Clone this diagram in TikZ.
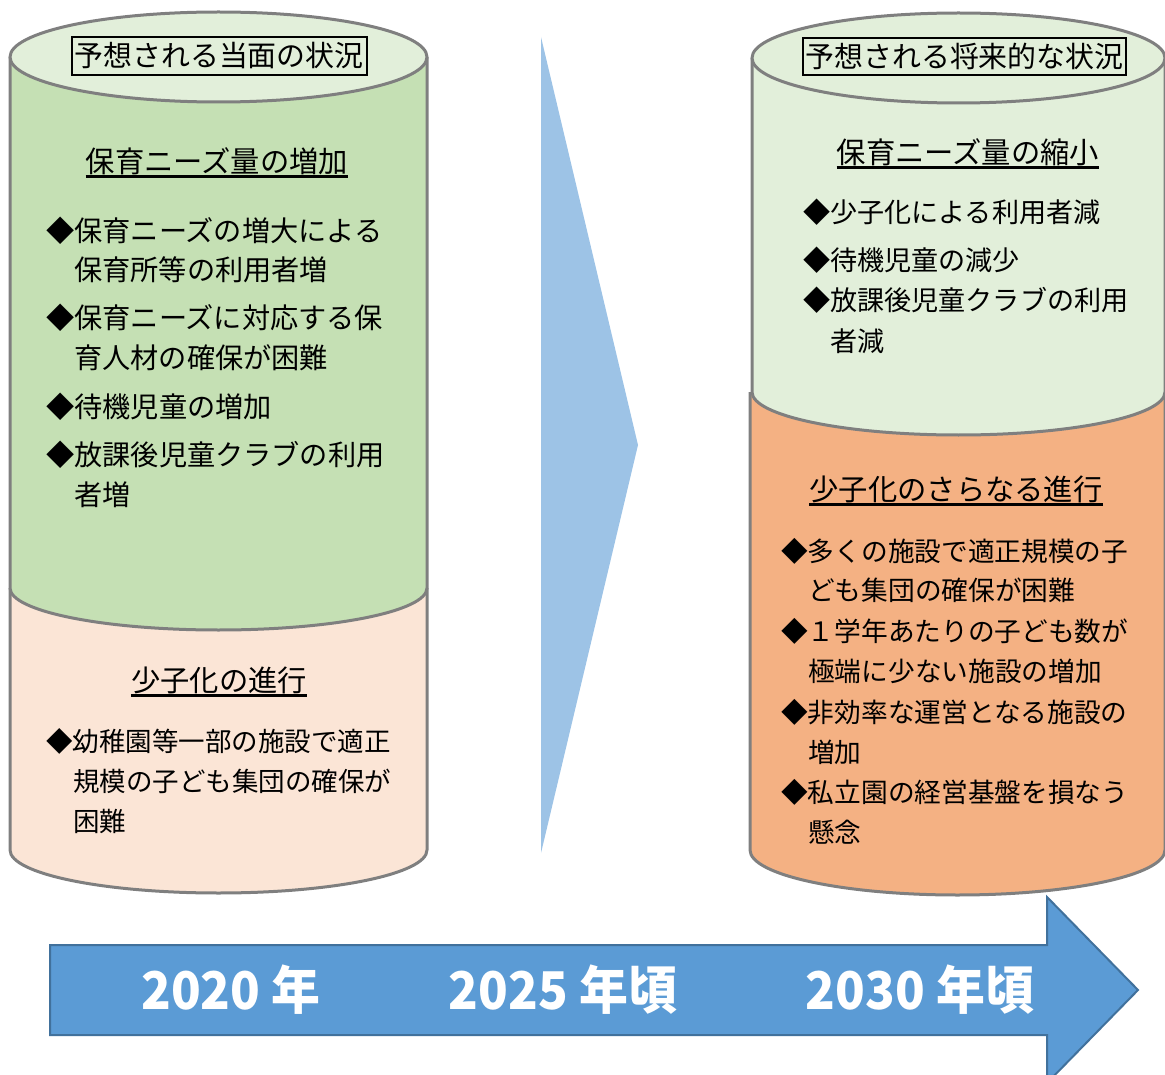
\documentclass[tikz,border=0pt]{standalone}
\usepackage{fontspec}
\newfontfamily\jp{Noto Sans CJK JP}
\definecolor{edge}{HTML}{7F7F7F}
\definecolor{gdark}{HTML}{C5E0B4}
\definecolor{glight}{HTML}{E2EFDA}
\definecolor{pinkc}{HTML}{FBE5D6}
\definecolor{orangec}{HTML}{F4B183}
\definecolor{chev}{HTML}{9DC3E6}
\definecolor{arrowf}{HTML}{5B9BD5}
\definecolor{arrowd}{HTML}{41719C}
\tikzset{
  cyl/.style={draw=edge, line width=3pt, line join=round},
  txt/.style={font=\jp\fontsize{28.2}{30}\selectfont, inner sep=0pt, anchor=west, text height=25pt, text depth=3.4pt},
  txtB/.style={txt, font=\jp\fontsize{26.5}{30}\selectfont},
  txtC/.style={txt, font=\jp\fontsize{27.1}{30}\selectfont},
  txtD/.style={txt, font=\jp\fontsize{26.7}{30}\selectfont},
  hd/.style={txt, anchor=center, font=\jp\fontsize{29.3}{31}\selectfont},
  titlebox/.style={txt, anchor=center, font=\jp\fontsize{28.9}{31}\selectfont, draw=black, line width=2pt, inner xsep=3pt, inner ysep=4.5pt},
  ul/.style={line width=3pt},
  yeartext/.style={font=\jp\bfseries\fontsize{52}{54}\selectfont, text=white, inner sep=0pt, anchor=center}
}
\begin{document}
\begin{tikzpicture}[x=1pt,y=-1pt]
\useasboundingbox (0,0) rectangle (1165,1075);
\clip (0,0) rectangle (1165,1075);
% ---------- left cylinder ----------
\fill[pinkc] (10,588) -- (10,850) arc[start angle=180,end angle=0,x radius=208.5,y radius=43] -- (427,588) -- cycle;
\draw[cyl] (10,588) -- (10,850) arc[start angle=180,end angle=0,x radius=208.5,y radius=43] -- (427,588);
\fill[gdark] (10,57) -- (10,588) arc[start angle=180,end angle=0,x radius=208.5,y radius=42] -- (427,57) -- cycle;
\draw[cyl] (10,57) -- (10,588) arc[start angle=180,end angle=0,x radius=208.5,y radius=42] -- (427,57);
\filldraw[cyl, fill=glight] (218.5,57) ellipse[x radius=208.5, y radius=45];
% ---------- right cylinder ----------
\fill[orangec] (750,392) -- (750,850) arc[start angle=180,end angle=0,x radius=207.5,y radius=45] -- (1165,392) -- cycle;
\draw[cyl] (750,392) -- (750,850) arc[start angle=180,end angle=0,x radius=207.5,y radius=45] -- (1165,392);
\fill[glight] (752,58) -- (752,392) arc[start angle=180,end angle=0,x radius=206.5,y radius=43] -- (1165,58) -- cycle;
\draw[cyl] (752,58) -- (752,392) arc[start angle=180,end angle=0,x radius=206.5,y radius=43] -- (1165,58);
\filldraw[cyl, fill=glight] (958.5,58) ellipse[x radius=206.5, y radius=45];
% ---------- middle chevron ----------
\fill[chev] (541,37) -- (638,445) -- (541,853) -- cycle;
% ---------- timeline arrow ----------
\filldraw[fill=arrowf, draw=arrowd, line width=2pt, line join=miter]
  (50,945) -- (1047,945) -- (1047,897) -- (1138,990) -- (1047,1083) -- (1047,1035) -- (50,1035) -- cycle;
\node[yeartext] (y1) at (231,990) {\scalebox{0.94}[1]{2020 年}};
\node[yeartext] (y2) at (563,990) {\scalebox{0.94}[1]{2025 年頃}};
\node[yeartext] (y3) at (920,990) {\scalebox{0.94}[1]{2030 年頃}};
% ---------- left texts ----------
\node[titlebox] (lt) at (219,56) {予想される当面の状況};
\node[hd] (lh1) at (217,162) {保育ニーズ量の増加};
\draw[ul] (lh1.south west) -- (lh1.south east);
\node[txt] (la1) at (46,231) {◆保育ニーズの増大による};
\node[txt] (la2) at (74,270) {保育所等の利用者増};
\node[txt] (lb1) at (46,318) {◆保育ニーズに対応する保};
\node[txt] (lb2) at (74,358) {育人材の確保が困難};
\node[txt] (lc1) at (46,407) {◆待機児童の増加};
\node[txt] (ld1) at (46,455) {◆放課後児童クラブの利用};
\node[txt] (ld2) at (74,495) {者増};
\node[hd] (lh2) at (219,681) {少子化の進行};
\draw[ul] (lh2.south west) -- (lh2.south east);
\node[txtB] (le1) at (46,741) {◆幼稚園等一部の施設で適正};
\node[txtB] (le2) at (73,781) {規模の子ども集団の確保が};
\node[txtB] (le3) at (73,821) {困難};
% ---------- right texts ----------
\node[titlebox] (rt) at (964.5,56.5) {予想される将来的な状況};
\node[hd] (rh1) at (968,153) {保育ニーズ量の縮小};
\draw[ul] (rh1.south west) -- (rh1.south east);
\node[txtC] (ra1) at (803,212) {◆少子化による利用者減};
\node[txtC] (rb1) at (803,260) {◆待機児童の減少};
\node[txtC] (rc1) at (803,300) {◆放課後児童クラブの利用};
\node[txtC] (rc2) at (830,341) {者減};
\node[hd] (rh2) at (956,490) {少子化のさらなる進行};
\draw[ul] (rh2.south west) -- (rh2.south east);
\node[txtD] (rd1) at (781,551) {◆多くの施設で適正規模の子};
\node[txtD] (rd2) at (808,590) {ども集団の確保が困難};
\node[txtD] (re1) at (781,631) {◆１学年あたりの子ども数が};
\node[txtD] (re2) at (808,671) {極端に少ない施設の増加};
\node[txtD] (rf1) at (781,712) {◆非効率な運営となる施設の};
\node[txtD] (rf2) at (808,752) {増加};
\node[txtD] (rg1) at (781,792) {◆私立園の経営基盤を損なう};
\node[txtD] (rg2) at (808,832) {懸念};
\end{tikzpicture}
\end{document}
